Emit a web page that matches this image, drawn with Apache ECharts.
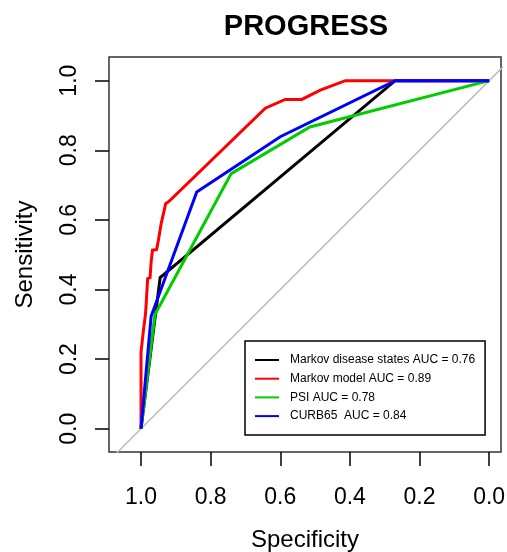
<!DOCTYPE html>
<html>
<head>
<meta charset="utf-8">
<script src="https://cdn.jsdelivr.net/npm/echarts@6/dist/echarts.min.js"></script>
<style>
html,body{margin:0;padding:0;background:#fff;}
#chart{width:507px;height:552px;}
</style>
</head>
<body>
<div id="chart"></div>
<script>
// ---- data (specificity, sensitivity) ----
var tickValues = [0, 0.2, 0.4, 0.6, 0.8, 1.0];
var tickLabels = ['0.0', '0.2', '0.4', '0.6', '0.8', '1.0'];

var seriesNames = [
  'Markov disease states AUC = 0.76',
  'Markov model AUC = 0.89',
  'PSI AUC = 0.78',
  'CURB65  AUC = 0.84'
];
var seriesColors = ['#000000', '#FF0000', '#00CD00', '#0000FF'];

var markovStatesSpec = [1.0, 0.945, 0.270, 0.0];
var markovStatesSens = [0.0, 0.434, 1.0, 1.0];

var markovModelSpec = [1.0, 1.0, 0.993, 0.987, 0.984, 0.981, 0.974, 0.971, 0.967, 0.955, 0.950, 0.942, 0.929, 0.921, 0.643, 0.586, 0.538, 0.485, 0.413, 0.0];
var markovModelSens = [0.0, 0.220, 0.283, 0.331, 0.379, 0.431, 0.434, 0.479, 0.513, 0.515, 0.542, 0.590, 0.647, 0.652, 0.921, 0.946, 0.946, 0.973, 1.0, 1.0];

var psiSpec = [1.0, 0.960, 0.741, 0.515, 0.0];
var psiSens = [0.0, 0.328, 0.733, 0.867, 1.0];

var curb65Spec = [1.0, 0.971, 0.840, 0.600, 0.270, 0.0];
var curb65Sens = [0.0, 0.323, 0.680, 0.839, 1.0, 1.0];

var diagonalSpec = [1.3, -0.3];
var diagonalSens = [-0.3, 1.3];

function pairs(xs, ys) {
  return xs.map(function (x, i) { return [x, ys[i]]; });
}

var FONT = '"Liberation Sans", Arial, Helvetica, sans-serif';
var chart = echarts.init(document.getElementById('chart'), null, {renderer: 'canvas'});

var specLists = [markovStatesSpec, markovModelSpec, psiSpec, curb65Spec];
var sensLists = [markovStatesSens, markovModelSens, psiSens, curb65Sens];

var series = [{
  type: 'line',
  name: 'diagonal',
  data: pairs(diagonalSpec, diagonalSens),
  symbol: 'none',
  silent: true,
  lineStyle: {color: '#BEBEBE', width: 1.5},
  clip: true,
  z: 1
}];
for (var i = 0; i < seriesNames.length; i++) {
  series.push({
    type: 'line',
    name: seriesNames[i],
    data: pairs(specLists[i], sensLists[i]),
    symbol: 'none',
    color: seriesColors[i],
    lineStyle: {color: seriesColors[i], width: 3, join: 'miter'},
    clip: true,
    z: 2 + i
  });
}

chart.setOption({
  animation: false,
  backgroundColor: '#ffffff',
  graphic: [{
    type: 'text',
    x: 306,
    y: 27,
    style: {
      text: 'PROGRESS',
      font: 'bold 29px ' + FONT,
      fill: '#000',
      textAlign: 'center',
      textVerticalAlign: 'middle'
    }
  }],
  grid: {
    left: 109, top: 57, width: 392, height: 395,
    outerBoundsMode: 'none',
    containLabel: false,
    show: true, borderColor: '#333333', borderWidth: 1.5,
    backgroundColor: 'transparent'
  },
  legend: {
    data: seriesNames,
    orient: 'vertical',
    left: 245, top: 341,
    padding: [12, 10, 12, 10],
    itemWidth: 24, itemHeight: 2,
    itemGap: 4.7,
    icon: 'rect',
    borderColor: '#000', borderWidth: 1.5,
    backgroundColor: '#fff',
    selectedMode: false,
    textStyle: {fontFamily: FONT, fontSize: 12, color: '#000', lineHeight: 14, padding: [0, 0, 0, 6]}
  },
  xAxis: {
    type: 'value',
    inverse: true,
    min: -0.034, max: 1.092,
    name: 'Specificity',
    nameLocation: 'middle',
    nameGap: 76,
    nameTextStyle: {fontFamily: FONT, fontSize: 24, color: '#000'},
    axisLine: {show: false, onZero: false},
    splitLine: {show: false},
    axisTick: {show: true, inside: false, customValues: tickValues, length: 14, lineStyle: {color: '#000', width: 1.5}},
    axisLabel: {customValues: tickValues, margin: 34, fontFamily: FONT, fontSize: 23, color: '#000',
      formatter: function (v) { return tickLabels[tickValues.indexOf(Math.round(v * 10) / 10)] || ''; }}
  },
  yAxis: {
    type: 'value',
    min: -0.067, max: 1.068,
    name: 'Sensitivity',
    nameLocation: 'middle',
    nameGap: 72,
    nameTextStyle: {fontFamily: FONT, fontSize: 24, color: '#000'},
    axisLine: {show: false, onZero: false},
    splitLine: {show: false},
    axisTick: {show: true, inside: false, customValues: tickValues, length: 14, lineStyle: {color: '#000', width: 1.5}},
    axisLabel: {customValues: tickValues, margin: 28, rotate: 90, fontFamily: FONT, fontSize: 23, color: '#000',
      formatter: function (v) { return tickLabels[tickValues.indexOf(Math.round(v * 10) / 10)] || ''; }}
  },
  series: series
});
</script>
</body>
</html>
